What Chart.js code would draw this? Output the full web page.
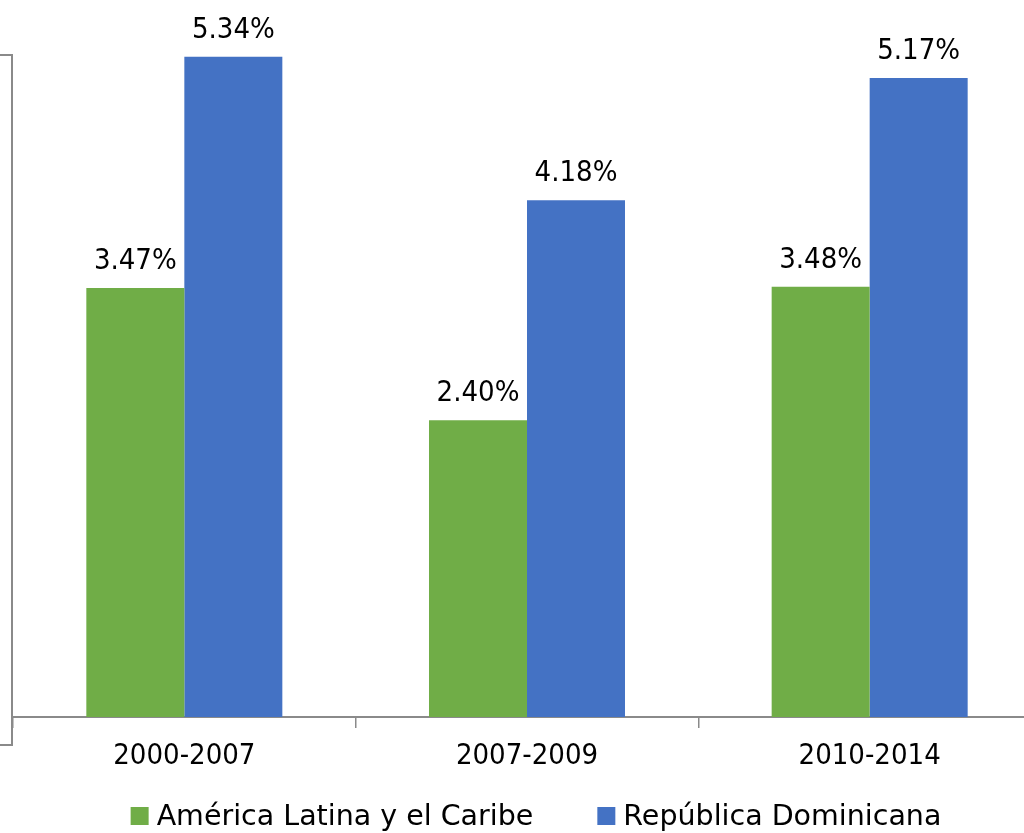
<!DOCTYPE html>
<html>
<head>
<meta charset="utf-8">
<script src="https://cdn.jsdelivr.net/npm/chart.js@4.4.1/dist/chart.umd.min.js"></script>
<style>
  html, body { margin: 0; padding: 0; background: #fff; overflow: hidden; }
  #wrap { position: absolute; left: 0; top: 0; width: 1041px; height: 833px; }
</style>
</head>
<body>
<div id="wrap"><canvas id="canvas" width="1041" height="833"></canvas></div>
<script>
var categories = ['2000-2007', '2007-2009', '2010-2014'];
var latamValues = [3.47, 2.40, 3.48];
var domValues = [5.34, 4.18, 5.17];
var seriesNames = ['América Latina y el Caribe', 'República Dominicana'];

var FONT = '"DejaVu Sans Condensed", "DejaVu Sans", sans-serif';
var LEGEND_FONT = '"DejaVu Sans", sans-serif';
var GRAY = '#8a8a8a';

// value labels above bars
var valueLabels = {
	id: 'valueLabels',
	afterDatasetsDraw: function(chart) {
		var ctx = chart.ctx;
		ctx.save();
		ctx.font = '29px ' + FONT;
		ctx.fillStyle = '#000';
		ctx.textAlign = 'center';
		ctx.textBaseline = 'alphabetic';
		chart.data.datasets.forEach(function(ds, i) {
			chart.getDatasetMeta(i).data.forEach(function(bar, j) {
				ctx.fillText(ds.data[j].toFixed(2) + '%', bar.x, bar.y - 19);
			});
		});
		ctx.restore();
	}
};

// legend drawn by hand so the spacing matches
var bottomLegend = {
	id: 'bottomLegend',
	afterDraw: function(chart) {
		var ctx = chart.ctx;
		var box = 18, gap = 8, spacing = 64, baseline = 825, centerX = 536;
		ctx.save();
		ctx.font = '28.5px ' + LEGEND_FONT;
		ctx.textBaseline = 'alphabetic';
		ctx.textAlign = 'left';
		var items = chart.data.datasets.map(function(ds) {
			return { text: ds.label, color: ds.backgroundColor, w: ctx.measureText(ds.label).width };
		});
		var total = 0;
		items.forEach(function(it, i) {
			total += box + gap + it.w + (i > 0 ? spacing : 0);
		});
		var x = centerX - total / 2;
		items.forEach(function(it) {
			ctx.fillStyle = it.color;
			ctx.fillRect(x, baseline - box, box, box);
			ctx.fillStyle = '#000';
			ctx.fillText(it.text, x + box + gap, baseline);
			x += box + gap + it.w + spacing;
		});
		ctx.restore();
	}
};

// the cut-off frame on the left
var frame = {
	id: 'frame',
	afterDraw: function(chart) {
		var ctx = chart.ctx;
		ctx.save();
		ctx.strokeStyle = GRAY;
		ctx.lineWidth = 2;
		ctx.beginPath();
		ctx.moveTo(0, 55);
		ctx.lineTo(12, 55);
		ctx.lineTo(12, 745);
		ctx.lineTo(0, 745);
		ctx.stroke();
		ctx.restore();
	}
};

var ctx = document.getElementById('canvas').getContext('2d');
window.myBar = new Chart(ctx, {
	type: 'bar',
	data: {
		labels: categories,
		datasets: [{
			label: seriesNames[0],
			data: latamValues,
			backgroundColor: '#70AD47',
			categoryPercentage: 0.572,
			barPercentage: 1.0
		}, {
			label: seriesNames[1],
			data: domValues,
			backgroundColor: '#4472C4',
			categoryPercentage: 0.572,
			barPercentage: 1.0
		}]
	},
	options: {
		responsive: false,
		animation: false,
		layout: { padding: { left: 13, right: 0, top: 0, bottom: 56 } },
		plugins: {
			legend: { display: false },
			tooltip: { enabled: false }
		},
		scales: {
			y: {
				display: false,
				min: 0,
				max: 5.8
			},
			x: {
				afterFit: function(scale) { scale.height = 60; },
				border: { display: true, color: GRAY, width: 2 },
				grid: {
					display: true,
					drawOnChartArea: false,
					drawTicks: true,
					tickLength: 11,
					color: GRAY,
					lineWidth: 1.5
				},
				ticks: {
					color: '#000',
					padding: 11,
					autoSkip: false,
					maxRotation: 0,
					font: { family: FONT, size: 29 }
				}
			}
		}
	},
	plugins: [valueLabels, bottomLegend, frame]
});
</script>
</body>
</html>
